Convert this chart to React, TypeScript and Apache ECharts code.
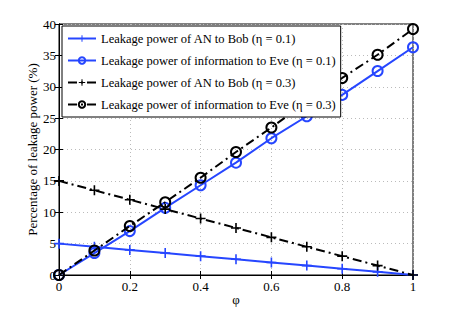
import React, { useEffect, useRef } from "react";
import * as echarts from "echarts";

const phi = [0, 0.1, 0.2, 0.3, 0.4, 0.5, 0.6, 0.7, 0.8, 0.9, 1];
const anBob01 = [5, 4.5, 4, 3.5, 3, 2.5, 2, 1.5, 1, 0.5, 0];
const infoEve01 = [0, 3.5, 7.0, 10.7, 14.3, 17.9, 21.8, 25.3, 28.7, 32.5, 36.3];
const anBob03 = [15, 13.5, 12, 10.5, 9, 7.5, 6, 4.5, 3, 1.5, 0];
const infoEve03 = [0, 3.9, 7.8, 11.6, 15.5, 19.6, 23.5, 27.6, 31.4, 35.1, 39.2];

const seriesNames = [
  "Leakage power of AN to Bob (\u03b7 = 0.1)",
  "Leakage power of information to Eve (\u03b7 = 0.1)",
  "Leakage power of AN to Bob (\u03b7 = 0.3)",
  "Leakage power of information to Eve (\u03b7 = 0.3)",
];

const BLUE = "#2646ff";
const FONT = "'Liberation Serif', 'Times New Roman', serif";
const PLUS = "path://M4.2,0H5.8V4.2H10V5.8H5.8V10H4.2V5.8H0V4.2H4.2Z";

export default function App() {
  const ref = useRef<HTMLDivElement>(null);
  useEffect(() => {
    if (!ref.current) return;
    const chart = echarts.init(ref.current, null, { renderer: "svg" });
    const zip = (ys: number[]) => phi.map((x, i) => [x, ys[i]]);
    const dashDot = [9, 4, 2, 4];
    const mk = (name: string, ys: number[], color: string, plus: boolean, dashed: boolean) => ({
      name,
      type: "line",
      data: zip(ys),
      symbol: plus ? PLUS : "circle",
      symbolSize: 10,
      showSymbol: true,
      lineStyle: { color, width: 2, type: dashed ? dashDot : "solid" },
      itemStyle: plus
        ? { color, borderWidth: 0 }
        : { color: "rgba(0,0,0,0)", borderColor: color, borderWidth: 2 },
      emphasis: { disabled: true },
      z: dashed ? 3 : 2,
    });
    chart.setOption({
      animation: false,
      backgroundColor: "#fff",
      textStyle: { fontFamily: FONT },
      grid: {
        left: 59,
        right: 44,
        top: 24,
        bottom: 35,
        show: true,
        borderColor: "#000",
        borderWidth: 1,
      },
      legend: {
        left: 62,
        top: 26,
        orient: "vertical",
        itemWidth: 28,
        itemHeight: 8,
        itemGap: 9,
        padding: [6, 5, 6, 5],
        backgroundColor: "#fff",
        borderColor: "#000",
        borderWidth: 1,
        textStyle: { fontFamily: FONT, fontSize: 12.5, color: "#000" },
        data: seriesNames,
        selectedMode: false,
      },
      xAxis: [
        {
          type: "value",
          min: 0,
          max: 1,
          interval: 0.2,
          name: "\u03c6",
          nameLocation: "middle",
          nameGap: 18,
          nameMoveOverlap: false,
          nameTextStyle: { fontFamily: FONT, fontSize: 13, color: "#000" },
          axisLine: { lineStyle: { color: "#000" } },
          axisTick: { inside: true, length: 4, lineStyle: { color: "#000" } },
          axisLabel: { fontFamily: FONT, fontSize: 13, color: "#000", margin: 5 },
          splitLine: { show: true, lineStyle: { color: "#bbb", type: [1, 3] } },
        },
        {
          type: "value",
          position: "top",
          min: 0,
          max: 1,
          interval: 0.2,
          axisLine: { show: true, lineStyle: { color: "#000" } },
          axisTick: { inside: true, length: 4, lineStyle: { color: "#000" } },
          axisLabel: { show: false },
          splitLine: { show: false },
        },
      ],
      yAxis: [
        {
          type: "value",
          min: 0,
          max: 40,
          interval: 5,
          name: "Percentage of leakage power (%)",
          nameLocation: "middle",
          nameGap: 20,
          nameMoveOverlap: false,
          nameTextStyle: { fontFamily: FONT, fontSize: 13, color: "#000" },
          axisLine: { show: true, lineStyle: { color: "#000" } },
          axisTick: { show: true, inside: true, length: 4, lineStyle: { color: "#000" } },
          axisLabel: { fontFamily: FONT, fontSize: 13, color: "#000", margin: 3 },
          splitLine: { show: true, lineStyle: { color: "#bbb", type: [1, 3] } },
        },
        {
          type: "value",
          position: "right",
          min: 0,
          max: 40,
          interval: 5,
          axisLine: { show: true, lineStyle: { color: "#000" } },
          axisTick: { show: true, inside: true, length: 4, lineStyle: { color: "#000" } },
          axisLabel: { show: false },
          splitLine: { show: false },
        },
      ],
      series: [
        mk(seriesNames[0], anBob01, BLUE, true, false),
        mk(seriesNames[1], infoEve01, BLUE, false, false),
        mk(seriesNames[2], anBob03, "#000", true, true),
        mk(seriesNames[3], infoEve03, "#000", false, true),
      ],
    });
    return () => chart.dispose();
  }, []);
  return (
    <div
      ref={ref}
      style={{ position: "fixed", left: 0, top: 0, width: 457, height: 311 }}
    />
  );
}
